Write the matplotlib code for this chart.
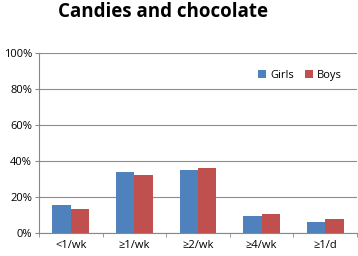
import matplotlib.pyplot as plt
import numpy as np
from matplotlib.ticker import FuncFormatter

categories = ["<1/wk", "≥1/wk", "≥2/wk", "≥4/wk", "≥1/d"]
girls = [15.3, 33.7, 34.8, 9.6, 5.9]
boys = [13.4, 32.2, 35.9, 10.6, 7.8]

plt.rcParams['font.family'] = ['Open Sans', 'DejaVu Sans']

fig = plt.figure(figsize=(3.58, 2.56), dpi=100)
ax = fig.add_axes([0.109, 0.09, 0.888, 0.703])

x = np.arange(len(categories))
w = 0.29
ax.bar(x - w / 2, girls, w, color="#4F81BD", label="Girls", zorder=3)
ax.bar(x + w / 2, boys, w, color="#C0504D", label="Boys", zorder=3)

ax.set_xlim(-0.5, len(categories) - 0.5)
ax.set_ylim(0, 100)
ax.set_yticks(range(0, 101, 20))
ax.yaxis.set_major_formatter(FuncFormatter(lambda v, p: f"{int(v)}%"))
ax.set_xticks(x)
ax.set_xticklabels(categories)
ax.set_xticks(np.arange(-0.5, len(categories), 1), minor=True)
ax.tick_params(axis="x", which="major", length=0, labelsize=8, pad=5)
ax.tick_params(axis="x", which="minor", length=3, color="#888888")
ax.tick_params(axis="y", length=3, color="#888888", labelsize=8, pad=2)

ax.grid(axis="y", color="#8c8c8c", linewidth=0.8, zorder=0)
for s in ["top", "right"]:
    ax.spines[s].set_visible(False)
for s in ["left", "bottom"]:
    ax.spines[s].set_color("#888888")

ax.legend(loc="upper right", bbox_to_anchor=(0.985, 0.96), ncol=2, frameon=False,
          fontsize=8, handlelength=0.7, handleheight=0.7, columnspacing=1.0,
          handletextpad=0.4)

fig.text(0.455, 0.955, "Candies and chocolate", ha="center", va="center",
         fontsize=13.5, fontweight="bold")

fig.savefig("out.png", dpi=100)
